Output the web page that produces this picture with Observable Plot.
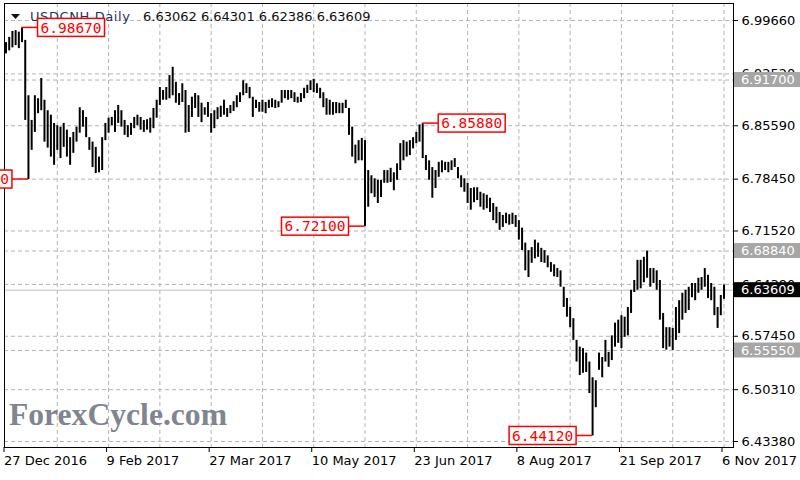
<!DOCTYPE html>
<html><head><meta charset="utf-8">
<script src="https://cdn.jsdelivr.net/npm/d3@7"></script>
<script src="https://cdn.jsdelivr.net/npm/@observablehq/plot@0.6"></script>
<style>
body{margin:0;background:#fff;}
#chart{width:800px;height:480px;overflow:hidden;}
svg{display:block;}
</style></head><body><div id="chart"></div>
<script>
const highs = [
6.967,6.974,6.982,6.983,6.981,6.9867,6.970,6.896,6.863,6.896,
6.892,6.919,6.890,6.876,6.870,6.859,6.856,6.854,6.859,6.850,
6.840,6.847,6.854,6.880,6.876,6.867,6.840,6.834,6.827,6.814,
6.840,6.859,6.866,6.867,6.876,6.883,6.876,6.863,6.856,6.859,
6.867,6.870,6.867,6.863,6.864,6.866,6.879,6.890,6.907,6.903,
6.907,6.923,6.934,6.914,6.899,6.912,6.903,6.883,6.894,6.899,
6.896,6.886,6.880,6.887,6.872,6.876,6.880,6.882,6.890,6.879,
6.883,6.888,6.896,6.900,6.916,6.912,6.907,6.894,6.890,6.887,
6.890,6.887,6.890,6.892,6.890,6.888,6.903,6.903,6.903,6.903,
6.900,6.894,6.899,6.906,6.910,6.916,6.918,6.912,6.906,6.900,
6.892,6.890,6.887,6.887,6.886,6.886,6.890,6.879,6.854,6.830,
6.836,6.839,6.836,6.796,6.789,6.785,6.783,6.783,6.796,6.796,
6.799,6.793,6.805,6.832,6.836,6.834,6.836,6.840,6.847,6.857,
6.8588,6.816,6.809,6.800,6.796,6.807,6.809,6.807,6.807,6.809,
6.812,6.800,6.789,6.785,6.779,6.772,6.773,6.773,6.767,6.765,
6.763,6.759,6.752,6.747,6.740,6.736,6.739,6.737,6.739,6.736,
6.729,6.719,6.699,6.689,6.693,6.703,6.699,6.692,6.689,6.682,
6.673,6.670,6.665,6.662,6.640,6.625,6.613,6.598,6.569,6.560,
6.558,6.552,6.540,6.519,6.515,6.552,6.546,6.569,6.553,6.575,
6.592,6.596,6.602,6.600,6.613,6.636,6.649,6.676,6.676,6.680,
6.6884,6.665,6.665,6.662,6.649,6.605,6.586,6.586,6.585,6.613,
6.622,6.632,6.636,6.640,6.645,6.645,6.652,6.653,6.665,6.656,
6.645,6.640,6.613,6.629,6.64301];
const lows = [
6.952,6.956,6.960,6.963,6.959,6.967,6.863,6.784,6.823,6.847,
6.872,6.876,6.834,6.826,6.814,6.803,6.823,6.812,6.827,6.814,
6.803,6.819,6.834,6.846,6.854,6.840,6.823,6.800,6.792,6.793,
6.796,6.836,6.846,6.856,6.847,6.859,6.854,6.843,6.840,6.843,
6.852,6.856,6.850,6.847,6.850,6.846,6.852,6.866,6.883,6.890,
6.890,6.892,6.896,6.886,6.883,6.887,6.846,6.847,6.867,6.879,
6.867,6.860,6.870,6.867,6.846,6.852,6.864,6.867,6.870,6.867,
6.872,6.875,6.880,6.887,6.896,6.899,6.892,6.867,6.879,6.874,
6.874,6.872,6.879,6.880,6.879,6.880,6.886,6.892,6.890,6.892,
6.887,6.886,6.887,6.892,6.899,6.903,6.900,6.899,6.892,6.880,
6.870,6.870,6.870,6.872,6.872,6.872,6.879,6.843,6.814,6.805,
6.809,6.809,6.721,6.747,6.765,6.760,6.752,6.760,6.779,6.779,
6.780,6.769,6.783,6.796,6.809,6.814,6.816,6.825,6.832,6.834,
6.812,6.796,6.783,6.759,6.772,6.787,6.793,6.796,6.793,6.796,
6.800,6.785,6.773,6.767,6.752,6.743,6.753,6.756,6.747,6.743,
6.745,6.740,6.729,6.725,6.716,6.720,6.725,6.723,6.724,6.720,
6.703,6.689,6.662,6.653,6.672,6.678,6.680,6.673,6.672,6.666,
6.660,6.654,6.653,6.640,6.613,6.600,6.586,6.569,6.540,6.522,
6.525,6.526,6.498,6.4412,6.479,6.529,6.519,6.540,6.533,6.542,
6.560,6.565,6.558,6.573,6.575,6.605,6.633,6.636,6.638,6.646,
6.652,6.640,6.645,6.636,6.596,6.558,6.556,6.560,6.5555,6.569,
6.578,6.596,6.605,6.609,6.626,6.622,6.632,6.636,6.640,6.625,
6.622,6.602,6.585,6.602,6.62386];

const xTickIdx = [0,32,64,96,128,160,192,224];
const xTickLabels = ["27 Dec 2016","9 Feb 2017","27 Mar 2017","10 May 2017","23 Jun 2017","8 Aug 2017","21 Sep 2017","6 Nov 2017"];
const gridIdx = [16,32,48,64,80,96,112,128,144,160,176,192,208,224];
const yTicks = [6.43380,6.50310,6.57450,6.64380,6.71520,6.78450,6.85590,6.92520,6.99660];
const levels = [6.91700,6.68840,6.55550];
const lastPrice = 6.63609;
const titleSymbol = "USDCNH,Daily";
const titleValues = ["6.63062","6.64301","6.62386","6.63609"];
const annoIdx = [5,7,112,130,183];
const annoPrice = [6.98670,6.78400,6.72100,6.85880,6.44120];
const annoSide = ["right","left","left","right","left"];

const bars = highs.map((h,i)=>({i, h, l: lows[i]}));

const plot = Plot.plot({
  width: 800, height: 480,
  marginLeft: 4, marginRight: 67, marginTop: 3, marginBottom: 33,
  x: {domain: [-0.47, 226.96], label: null},
  y: {domain: [6.4258, 7.0193], label: null},
  style: {background: "#fff", fontFamily: "DejaVu Sans, sans-serif", fontSize: "13px", color: "#000"},
  marks: [
    Plot.gridX(gridIdx, {stroke: "#b4b4b4", strokeOpacity: 1, strokeDasharray: "4,3"}),
    Plot.gridY([...yTicks, ...levels], {stroke: "#b4b4b4", strokeOpacity: 1, strokeDasharray: "4,3"}),
    Plot.ruleY([lastPrice], {stroke: "#c0c0c0", strokeWidth: 1}),
    Plot.ruleX(bars, {x: "i", y1: "l", y2: "h", stroke: "#000", strokeWidth: 2}),
    Plot.frame({stroke: "#000"}),
    Plot.axisX(xTickIdx, {tickSize: 5, tickPadding: 3, textAnchor: "start", dx: -2, fontSize: 13,
      tickFormat: d => xTickLabels[xTickIdx.indexOf(d)], label: null, stroke: "#000"}),
    Plot.axisY(yTicks, {anchor: "right", tickSize: 4, tickPadding: 4, fontSize: 13,
      tickFormat: d => d.toFixed(5), label: null, stroke: "#000"})
  ]
});
document.getElementById("chart").appendChild(plot);

const X = v => plot.scale("x").apply(v);
const Y = v => plot.scale("y").apply(v);
const svg = d3.select(plot);
const g = svg.append("g").attr("text-anchor", "start").attr("font-family", "DejaVu Sans, sans-serif");

// watermark
g.append("text").attr("x", 9).attr("y", 425).text("ForexCycle.com")
  .attr("font-family", "Liberation Serif, serif").attr("font-weight", "bold")
  .attr("font-size", 31).attr("fill", "#7f8690").attr("textLength", 218).attr("lengthAdjust", "spacingAndGlyphs");

// title
g.append("path").attr("d", "M11,14 L20,14 L15.5,19 Z").attr("fill", "#111");
g.append("text").attr("x", 30).attr("y", 16).attr("dy", "0.35em").text(titleSymbol)
  .attr("font-size", 13).attr("fill", "#1f3560").attr("textLength", 100).attr("lengthAdjust", "spacing");
g.append("text").attr("x", 143).attr("y", 16).attr("dy", "0.35em").text(titleValues.join(" "))
  .attr("font-size", 13).attr("fill", "#111");

// level labels on right axis
levels.forEach(v => {
  const y = Y(v);
  g.append("rect").attr("x", 734).attr("y", y - 7.5).attr("width", 66).attr("height", 15).attr("fill", "#a6a6a6");
  g.append("text").attr("x", 741).attr("y", y).attr("dy", "0.35em").text(v.toFixed(5))
    .attr("font-size", 13).attr("fill", "#fff");
});
{
  const y = Y(lastPrice);
  g.append("rect").attr("x", 734).attr("y", y - 7.5).attr("width", 66).attr("height", 15).attr("fill", "#000");
  g.append("text").attr("x", 741).attr("y", y).attr("dy", "0.35em").text(lastPrice.toFixed(5))
    .attr("font-size", 13).attr("fill", "#fff");
}

// red annotations
annoIdx.forEach((idx, k) => {
  const bx = X(idx), by = Y(annoPrice[k]);
  const gap = 16, w = 67, h = 18;
  const right = annoSide[k] === "right";
  const x0 = right ? bx + gap : bx - gap - w;
  g.append("line").attr("x1", bx).attr("x2", right ? x0 : x0 + w).attr("y1", by).attr("y2", by)
    .attr("stroke", "#ff0000").attr("stroke-width", 1.5);
  g.append("rect").attr("x", x0).attr("y", by - h / 2).attr("width", w).attr("height", h)
    .attr("fill", "#fff").attr("stroke", "#ff0000").attr("stroke-width", 1.5);
  g.append("text").attr("x", x0 + w / 2).attr("y", by).attr("dy", "0.36em").attr("text-anchor", "middle")
    .text(annoPrice[k].toFixed(5)).attr("font-family", "DejaVu Sans Mono, monospace")
    .attr("font-size", 14.5).attr("fill", "#ff0000");
});
</script>
</body></html>
